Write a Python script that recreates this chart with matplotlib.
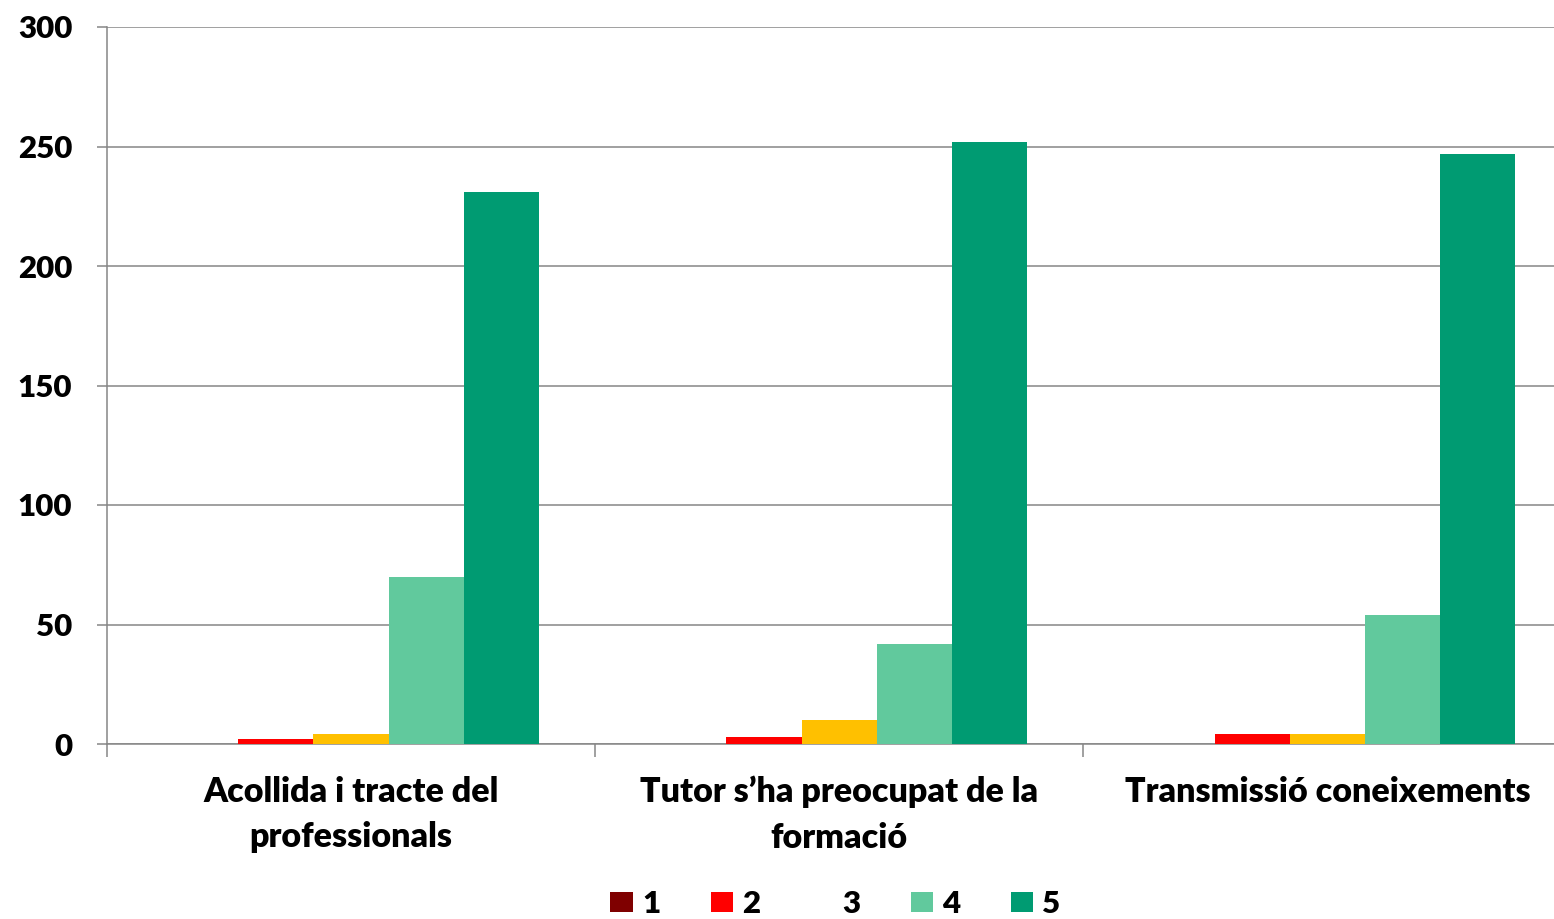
import matplotlib
matplotlib.use('Agg')
import matplotlib.pyplot as plt
from matplotlib.patches import Patch
import numpy as np

plt.rcParams['font.family'] = ['Lato', 'DejaVu Sans']
plt.rcParams['font.weight'] = 'heavy'

categories = ['Acollida i tracte del\nprofessionals',
              'Tutor s\u2019ha preocupat de la\nformació',
              'Transmissió coneixements']
series_names = ['1', '2', '3', '4', '5']
values_1 = [0, 0, 0]
values_2 = [2, 3, 4]
values_3 = [4, 10, 4]
values_4 = [70, 42, 54]
values_5 = [231, 252, 247]
colors = ['#7F0000', '#FF0000', '#FFC000', '#61C99D', '#009B72']

all_values = [values_1, values_2, values_3, values_4, values_5]

fig = plt.figure(figsize=(15.54, 9.19), dpi=100)
W, H = 1554, 919
ax = fig.add_axes([107 / W, 1 - 744 / H, (1571.5 - 107) / W, (744 - 27) / H])

x = np.arange(len(categories))
bar_w = 0.154
for i, vals in enumerate(all_values):
    ax.bar(x + (i - 2) * bar_w, vals, width=bar_w, color=colors[i], zorder=3)

ax.set_xlim(-0.5, 2.5)
ax.set_ylim(0, 300)
ax.set_yticks(range(0, 301, 50))
ax.yaxis.grid(True, color='#868686', linewidth=1.1, zorder=0)
ax.set_axisbelow(True)

ax.set_xticks(x)
ax.set_xticklabels(categories, fontsize=24.5, fontweight='heavy', linespacing=1.52)
ax.set_xticks([-0.5, 0.5, 1.5, 2.5], minor=True)
ax.tick_params(axis='x', which='major', length=0, pad=23)
ax.tick_params(axis='x', which='minor', length=9.5, width=1.1, color='#868686', direction='out')
ax.tick_params(axis='y', length=7, width=1.1, color='#868686', labelsize=22.5, pad=18)
for lab in ax.get_yticklabels():
    lab.set_fontweight('heavy')

for side in ['top', 'right']:
    ax.spines[side].set_visible(False)
ax.spines['left'].set_color('#868686')
ax.spines['left'].set_linewidth(1.1)
ax.spines['bottom'].set_color('#868686')
ax.spines['bottom'].set_linewidth(1.1)

handles = []
for i, name in enumerate(series_names):
    if name == '3':
        handles.append(Patch(facecolor='none', edgecolor='none', label=name))
    else:
        handles.append(Patch(facecolor=colors[i], edgecolor='none', label=name))
fig.legend(handles=handles, loc='center', bbox_to_anchor=(835.5 / W, 1 - 904 / H),
           ncol=5, frameon=False, fontsize=22.5, handlelength=0.72, handleheight=0.64,
           handletextpad=0.3, columnspacing=1.6, borderaxespad=0)

fig.savefig('out.png', dpi=100)
